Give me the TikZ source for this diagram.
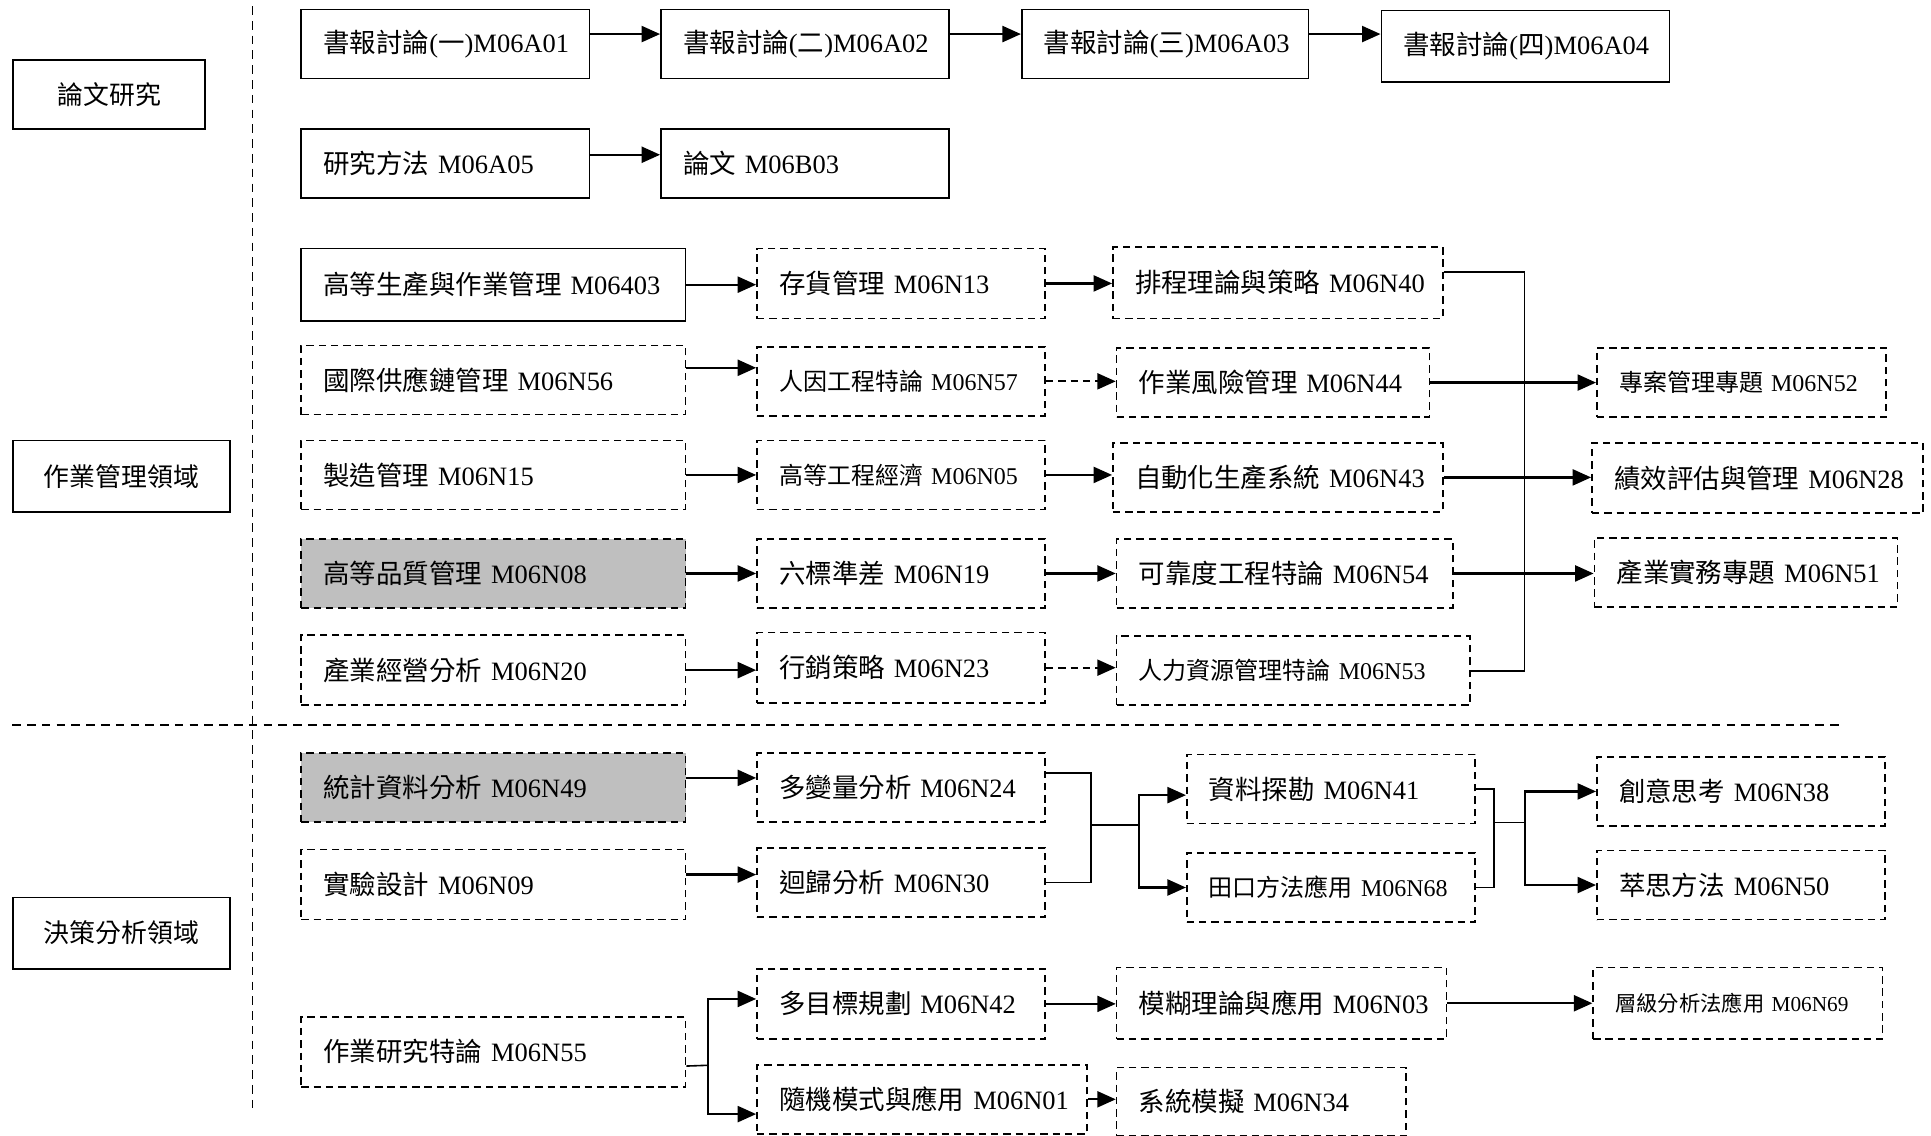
\documentclass[tikz,border=0pt]{standalone}
\usepackage{fontspec}
\setmainfont{Liberation Serif}
\newfontfamily\zhfont{Noto Sans CJK TC}
\newcommand{\zh}[1]{{\zhfont #1}}
\usepackage{tikz}
\usetikzlibrary{arrows,arrows.meta}

\begin{document}
\begin{tikzpicture}[x=1pt,y=-1pt,
  areabox/.style={draw,line width=1.3pt,anchor=north west,minimum width=176pt,minimum height=58pt,font=\fontsize{21}{24}\selectfont},
  coursebox/.style={draw,line width=1.3pt,anchor=north west,align=left,inner xsep=18pt,inner ysep=0pt,minimum height=56pt,font=\fontsize{21.5}{24}\selectfont},
  optbox/.style={coursebox,dash pattern=on 6pt off 4pt},
  corebox/.style={optbox,fill=black!25},
  smallfont/.style={font=\fontsize{19.5}{22}\selectfont},
  tinyfont/.style={font=\fontsize{17.3}{20}\selectfont},
  link/.style={line width=1.8pt,-{Triangle[length=15pt,width=13pt]}},
  optlink/.style={link,dash pattern=on 6pt off 4pt},
  bus/.style={line width=1.3pt},
  sep/.style={line width=1.5pt,dash pattern=on 7pt off 5pt}]
  \useasboundingbox (0,0) rectangle (1568,922);
  \coordinate (vtop) at (205,5);
  \coordinate (vbot) at (205,900);
  \coordinate (hl) at (10,589);
  \coordinate (hr) at (1495,589);
  \draw[sep] (vtop) -- (vbot);
  \draw[sep] (hl) -- (hr);
  \node[areabox,minimum width=156pt,minimum height=56pt] (thesis) at (10,48) {\zh{論文研究}};
  \node[areabox] (opsarea) at (10,357) {\zh{作業管理領域}};
  \node[areabox] (decarea) at (10,728) {\zh{決策分析領域}};
  \node[coursebox,text width=198pt] (A01) at (244,7) {\zh{書報討論}(\zh{一})M06A01};
  \node[coursebox,text width=198pt] (A02) at (536,7) {\zh{書報討論}(\zh{二})M06A02};
  \node[coursebox,text width=197pt] (A03) at (829,7) {\zh{書報討論}(\zh{三})M06A03};
  \node[coursebox,text width=198pt,minimum height=58pt] (A04) at (1121,8) {\zh{書報討論}(\zh{四})M06A04};
  \node[coursebox,text width=198pt] (A05) at (244,104) {\zh{研究方法}~M06A05};
  \node[coursebox,text width=198pt] (B03) at (536,104) {\zh{論文}~M06B03};
  \node[coursebox,text width=276pt,minimum height=59pt] (P403) at (244,201) {\zh{高等生產與作業管理}~M06403};
  \node[optbox,text width=198pt,minimum height=57pt] (N13) at (614,201) {\zh{存貨管理}~M06N13};
  \node[optbox,text width=232pt,minimum height=58pt] (N40) at (903,200) {\zh{排程理論與策略}~M06N40};
  \node[optbox,text width=276pt] (N56) at (244,280) {\zh{國際供應鏈管理}~M06N56};
  \node[optbox,smallfont,text width=198pt] (N57) at (614,281) {\zh{人因工程特論}~M06N57};
  \node[optbox,text width=218pt] (N44) at (906,282) {\zh{作業風險管理}~M06N44};
  \node[optbox,text width=276pt] (N15) at (244,357) {\zh{製造管理}~M06N15};
  \node[optbox,smallfont,text width=198pt] (N05) at (614,357) {\zh{高等工程經濟}~M06N05};
  \node[optbox,text width=232pt] (N43) at (903,359) {\zh{自動化生產系統}~M06N43};
  \node[corebox,text width=276pt] (N08) at (244,437) {\zh{高等品質管理}~M06N08};
  \node[optbox,text width=198pt] (N19) at (614,437) {\zh{六標準差}~M06N19};
  \node[optbox,text width=237pt] (N54) at (906,437) {\zh{可靠度工程特論}~M06N54};
  \node[optbox,text width=276pt,minimum height=57pt] (N20) at (244,515) {\zh{產業經營分析}~M06N20};
  \node[optbox,text width=198pt,minimum height=57pt] (N23) at (614,513) {\zh{行銷策略}~M06N23};
  \node[optbox,smallfont,text width=251pt] (N53) at (906,516) {\zh{人力資源管理特論}~M06N53};
  \node[optbox,smallfont,text width=199pt] (N52) at (1296,282) {\zh{專案管理專題}~M06N52};
  \node[optbox,text width=233pt,minimum height=57pt] (N28) at (1292,359) {\zh{績效評估與管理}~M06N28};
  \node[optbox,text width=210pt] (N51) at (1294,436) {\zh{產業實務專題}~M06N51};
  \node[corebox,text width=276pt] (N49) at (244,611) {\zh{統計資料分析}~M06N49};
  \node[optbox,text width=198pt] (N24) at (614,611) {\zh{多變量分析}~M06N24};
  \node[optbox,text width=276pt,minimum height=57pt] (N09) at (244,689) {\zh{實驗設計}~M06N09};
  \node[optbox,text width=198pt] (N30) at (614,688) {\zh{迴歸分析}~M06N30};
  \node[optbox,text width=198pt] (N41) at (963,612) {\zh{資料探勘}~M06N41};
  \node[optbox,smallfont,text width=198pt] (N68) at (963,692) {\zh{田口方法應用}~M06N68};
  \node[optbox,text width=198pt] (N38) at (1296,614) {\zh{創意思考}~M06N38};
  \node[optbox,text width=198pt] (N50) at (1296,690) {\zh{萃思方法}~M06N50};
  \node[optbox,text width=276pt,minimum height=57pt] (N55) at (244,825) {\zh{作業研究特論}~M06N55};
  \node[optbox,text width=198pt,minimum height=57pt] (N42) at (614,786) {\zh{多目標規劃}~M06N42};
  \node[optbox,text width=232pt,minimum height=58pt] (N03) at (906,785) {\zh{模糊理論與應用}~M06N03};
  \node[optbox,tinyfont,text width=199pt,minimum height=58pt] (N69) at (1293,785) {\zh{層級分析法應用}~M06N69};
  \node[optbox,text width=232pt] (N01) at (614,864) {\zh{隨機模式與應用}~M06N01};
  \node[optbox,text width=199pt] (N34) at (906,866) {\zh{系統模擬}~M06N34};
  \draw[link] ([yshift=8pt]A01.east) -- ([yshift=8pt]A02.west);
  \draw[link] ([yshift=8pt]A02.east) -- ([yshift=8pt]A03.west);
  \draw[link] ([yshift=8pt]A03.east) -- ([yshift=10pt]A04.west);
  \draw[link] ([yshift=7pt]A05.east) -- ([yshift=7pt]B03.west);
  \draw[link] (P403.east) -- (P403.east -| N13.west);
  \draw[link] (N13.east) -- (N13.east -| N40.west);
  \draw[link] ([yshift=10pt]N56.east) -- ([yshift=11pt]N57.west);
  \draw[optlink] (N57.east) -- (N57.east -| N44.west);
  \draw[link] (N15.east) -- (N15.east -| N05.west);
  \draw[link] (N05.east) -- (N05.east -| N43.west);
  \draw[link] (N08.east) -- (N08.east -| N19.west);
  \draw[link] (N19.east) -- (N19.east -| N54.west);
  \draw[link] (N20.east) -- (N20.east -| N23.west);
  \draw[optlink] (N23.east) -- (N23.east -| N53.west);
  \coordinate (bus) at (1238,0);
  \draw[bus] ([yshift=9pt]N40.east) -| (bus |- N53.east) -- (N53.east);
  \draw[link] (N44.east) -- (N44.east -| N52.west);
  \draw[link] (N43.east) -- (N43.east -| N28.west);
  \draw[link] (N54.east) -- (N54.east -| N51.west);
  \draw[link] ([yshift=8pt]N49.east) -- ([yshift=8pt]N24.west);
  \draw[link] ([yshift=8pt]N09.east) -- ([yshift=6.5pt]N30.west);
  \coordinate (j1) at (886,670);
  \coordinate (j2) at (925,670);
  \coordinate (j3) at (1213,668);
  \coordinate (j4) at (1238,668);
  \draw[bus] ([yshift=12pt]N24.east) -| (j1) |- (N30.east);
  \draw[bus] (j1) -- (j2);
  \draw[link] (j2) |- ([yshift=-5pt]N41.west);
  \draw[link] (j2) |- (N68.west);
  \draw[bus] (N41.east) -| (j3) |- (N68.east);
  \draw[bus] (j3) -- (j4);
  \draw[link] (j4) |- (N38.west);
  \draw[link] (j4) |- (N50.west);
  \coordinate (j5) at (575,865);
  \draw[bus] ([yshift=-11.5pt]N55.east) -- (j5);
  \draw[link] (j5) |- ([yshift=4pt]N42.west);
  \draw[link] (j5) |- ([yshift=-12pt]N01.west);
  \draw[link] (N42.east) -- (N42.east -| N03.west);
  \draw[link] (N03.east) -- (N03.east -| N69.west);
  \draw[link] (N01.east) -- (N01.east -| N34.west);
\end{tikzpicture}
\end{document}
